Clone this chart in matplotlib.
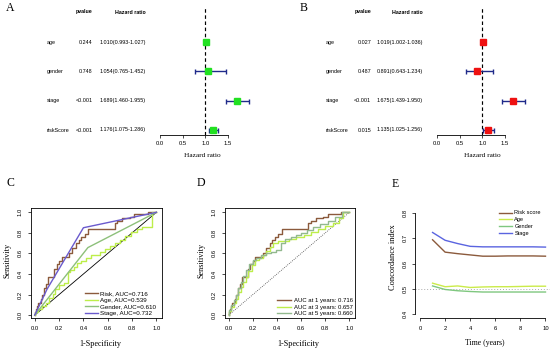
import matplotlib
matplotlib.use("Agg")
import matplotlib.pyplot as plt
import matplotlib.transforms as mtransforms
import numpy as np

W, H = 550, 352
SANS = ["Liberation Sans", "DejaVu Sans"]
SERIF = ["Liberation Serif", "DejaVu Serif"]
plt.rcParams['font.family'] = SANS

# ---------------- data ----------------
forest_vars = ["age", "gender", "stage", "riskScore"]
# A: univariate
A_p = ["0.244", "0.748", "<0.001", "<0.001"]
A_hr = [1.010, 1.054, 1.689, 1.176]
A_lo = [0.993, 0.765, 1.460, 1.075]
A_hi = [1.027, 1.452, 1.955, 1.286]
# B: multivariate
B_p = ["0.027", "0.487", "<0.001", "0.015"]
B_hr = [1.019, 0.891, 1.675, 1.135]
B_lo = [1.002, 0.643, 1.439, 1.025]
B_hi = [1.036, 1.234, 1.950, 1.256]
forest_ticks = [0.0, 0.5, 1.0, 1.5]

# C: ROC of factors
risk_fpr = [0, 0.01, 0.02, 0.03, 0.05, 0.06, 0.08, 0.09, 0.11, 0.13, 0.16, 0.18, 0.20, 0.22, 0.24, 0.28,
            0.31, 0.34, 0.36, 0.38, 0.41, 0.44, 0.47, 0.66, 0.68, 0.72, 0.78, 0.82, 0.87, 0.93, 1.0]
risk_tpr = [0, 0.03, 0.06, 0.09, 0.12, 0.16, 0.20, 0.26, 0.30, 0.37, 0.37, 0.45, 0.50, 0.53, 0.57, 0.57,
            0.60, 0.65, 0.70, 0.73, 0.76, 0.79, 0.84, 0.84, 0.90, 0.92, 0.94, 0.95, 0.98, 0.98, 1.0]
age_fpr = [0, 0.03, 0.06, 0.09, 0.12, 0.15, 0.17, 0.20, 0.24, 0.27, 0.29, 0.32, 0.35, 0.38, 0.42, 0.46,
           0.54, 0.58, 0.62, 0.66, 0.70, 0.74, 0.79, 0.84, 0.88, 0.96, 1.0]
age_tpr = [0, 0.03, 0.06, 0.09, 0.12, 0.17, 0.21, 0.25, 0.29, 0.31, 0.42, 0.44, 0.47, 0.51, 0.53, 0.56,
           0.58, 0.61, 0.64, 0.67, 0.70, 0.73, 0.77, 0.81, 0.84, 0.86, 1.0]
gender_fpr = [0, 0.437, 1.0]
gender_tpr = [0, 0.657, 1.0]
stage_fpr = [0, 0.10, 0.40, 1.0]
stage_tpr = [0, 0.25, 0.85, 1.0]
C_labels = ["Risk, AUC=0.716", "Age, AUC=0.539", "Gender, AUC=0.610", "Stage, AUC=0.732"]

# D: time-dependent ROC
y3_fpr = [0, 0.02, 0.04, 0.06, 0.08, 0.10, 0.12, 0.14, 0.16, 0.19, 0.22, 0.25, 0.28, 0.31, 0.34, 0.37,
          0.41, 0.45, 0.50, 0.56, 0.62, 0.68, 0.74, 0.80, 0.86, 0.91, 0.95, 1.0]
y3_tpr = [0, 0.04, 0.08, 0.12, 0.16, 0.22, 0.27, 0.32, 0.37, 0.43, 0.49, 0.54, 0.56, 0.58, 0.62, 0.66,
          0.70, 0.72, 0.72, 0.74, 0.76, 0.78, 0.81, 0.84, 0.87, 0.90, 0.94, 1.0]
y5_fpr = [0, 0.02, 0.04, 0.06, 0.08, 0.10, 0.12, 0.14, 0.17, 0.20, 0.23, 0.27, 0.31, 0.35, 0.39, 0.43,
          0.47, 0.52, 0.56, 0.60, 0.65, 0.70, 0.76, 0.82, 0.88, 0.94, 1.0]
y5_tpr = [0, 0.05, 0.10, 0.15, 0.20, 0.26, 0.32, 0.38, 0.44, 0.50, 0.54, 0.56, 0.58, 0.60, 0.61, 0.63,
          0.70, 0.74, 0.76, 0.78, 0.80, 0.83, 0.86, 0.89, 0.92, 0.95, 1.0]
D_labels = ["AUC at 1 years: 0.716", "AUC at 3 years: 0.657", "AUC at 5 years: 0.660"]

# E: C-index over time
years = [1, 2, 3, 4, 5, 6, 7, 8, 9, 10]
ci_risk = [0.694, 0.645, 0.639, 0.634, 0.629, 0.629, 0.630, 0.630, 0.630, 0.629]
ci_age = [0.522, 0.508, 0.511, 0.505, 0.507, 0.508, 0.508, 0.509, 0.510, 0.510]
ci_gender = [0.511, 0.497, 0.492, 0.489, 0.487, 0.487, 0.487, 0.487, 0.487, 0.487]
ci_stage = [0.723, 0.692, 0.679, 0.668, 0.666, 0.666, 0.666, 0.666, 0.666, 0.665]
E_labels = ["Risk score", "Age", "Gender", "Stage"]

# colours
c_brown = "#8B5A3C"
c_ygreen = "#BDEE4A"
c_green = "#8DC07A"
c_blue = "#6A5ACD"
c_navy = "#1F2A8A"

fig = plt.figure(figsize=(W / 100, H / 100), dpi=100)


def ax_px(l, t, r, b):
    return fig.add_axes([l / W, 1 - b / H, (r - l) / W, (b - t) / H])


def ftext(x, y, s, **kw):
    fig.text(x / W, 1 - y / H, s, **kw)


# ---------------- forest plots ----------------
def forest(x0px, label_x, p_right, hr_right, pvals, hr, lo, hi, mcol, xlab_x):
    px_per = 45.33
    l, r = x0px - 10, x0px + 100
    ax = ax_px(l, 8, r, 135)
    ax.set_xlim(-10 / px_per, 100 / px_per)
    y0 = 1 - 5 / 29.33
    y1 = 1 + (130 - 8) / 29.33
    ax.set_ylim(y0, y1)
    n = len(forest_vars)
    ypos = np.arange(n, 0, -1)
    hr = np.array(hr); lo = np.array(lo); hi = np.array(hi)
    ax.axvline(1.0, color="black", ls=(0, (3, 2.2)), lw=0.85)
    ax.errorbar(hr, ypos, xerr=[hr - lo, hi - hr], fmt="s", color=c_navy, mfc=mcol, mec=mcol,
                ms=4.4, capsize=1.8, elinewidth=1.0, capthick=1.0, zorder=3)
    for s in ["top", "right", "left"]:
        ax.spines[s].set_visible(False)
    ax.spines["bottom"].set_bounds(0, 1.5)
    ax.spines["bottom"].set_linewidth(0.6)
    ax.set_yticks([])
    ax.set_xticks(forest_ticks)
    ax.set_xticklabels(["%.1f" % t for t in forest_ticks])
    ax.tick_params(axis="x", labelsize=4.2, length=2.5, width=0.5, pad=1.5)
    ax.patch.set_alpha(0)
    tr = mtransforms.blended_transform_factory(fig.transFigure, ax.transData)
    yh = 1 + (130 - 12) / 29.33
    fig.text(p_right / W, yh, "pvalue", transform=tr, ha="right", va="center", fontsize=3.8, fontweight="bold")
    fig.text(hr_right / W, yh, "Hazard ratio", transform=tr, ha="right", va="center", fontsize=3.8, fontweight="bold")
    for i in range(n):
        fig.text(label_x / W, ypos[i], forest_vars[i], transform=tr, ha="left", va="center", fontsize=3.9)
        fig.text(p_right / W, ypos[i], pvals[i], transform=tr, ha="right", va="center", fontsize=3.9)
        fig.text(hr_right / W, ypos[i], "%.3f(%.3f-%.3f)" % (hr[i], lo[i], hi[i]), transform=tr,
                 ha="right", va="center", fontsize=3.9)
    ftext(xlab_x, 155, "Hazard ratio", family=SERIF, fontsize=5.2, ha="center", va="center")
    return ax


forest(160, 47, 92.5, 146, A_p, A_hr, A_lo, A_hi, "#22E022", 202)
forest(437, 326, 371, 423, B_p, B_hr, B_lo, B_hi, "#EE1111", 482)
ftext(5.5, 8, "A", family=SERIF, fontsize=8.5, ha="left", va="center")
ftext(300, 8, "B", family=SERIF, fontsize=8.5, ha="left", va="center")


# ---------------- ROC panels ----------------
def roc_axes(l, r):
    ax = ax_px(l, 208.3, r, 318.4)
    ax.set_xlim(-0.035, 1.042)
    ax.set_ylim(-0.032, 1.039)
    ticks = [0.0, 0.2, 0.4, 0.6, 0.8, 1.0]
    ax.set_xticks(ticks)
    ax.set_yticks(ticks)
    ax.set_xticklabels(["%.1f" % t for t in ticks])
    ax.set_yticklabels(["%.1f" % t for t in ticks], rotation=90, va="center")
    ax.tick_params(labelsize=4.2, length=2.5, width=0.5, pad=3.0)
    for s in ax.spines.values():
        s.set_linewidth(0.6)
    return ax


axC = roc_axes(30.5, 161.5)
axC.plot([0, 1], [0, 1], color="black", lw=0.6)
axC.plot(risk_fpr, risk_tpr, drawstyle="steps-pre", color=c_brown, lw=1.0, label=C_labels[0])
axC.plot(age_fpr, age_tpr, drawstyle="steps-pre", color=c_ygreen, lw=1.0, label=C_labels[1])
axC.plot(gender_fpr, gender_tpr, color=c_green, lw=1.0, label=C_labels[2])
axC.plot(stage_fpr, stage_tpr, color=c_blue, lw=1.0, label=C_labels[3])
axC.legend(loc="lower right", bbox_to_anchor=(156 / W, 1 - 316 / H), bbox_transform=fig.transFigure,
           frameon=False, fontsize=4.5, handlelength=2.0, handletextpad=0.35, labelspacing=0.2,
           borderpad=0, borderaxespad=0)
ftext(100, 344, "1-Specificity", family=SERIF, fontsize=5.9, ha="center", va="center")
ftext(7, 260, "Sensitivity", family=SERIF, fontsize=5.9, ha="center", va="center", rotation=90)
ftext(6.5, 183, "C", family=SERIF, fontsize=8.5, ha="left", va="center")

axD = roc_axes(224.5, 354.5)
axD.plot([0, 1], [0, 1], color="#444444", lw=0.6, ls=(0, (1, 1.5)))
axD.plot(risk_fpr, risk_tpr, drawstyle="steps-pre", color=c_brown, lw=1.0, label=D_labels[0])
axD.plot(y3_fpr, y3_tpr, drawstyle="steps-pre", color=c_ygreen, lw=1.0, label=D_labels[1])
axD.plot(y5_fpr, y5_tpr, drawstyle="steps-pre", color="#92B98E", lw=1.0, label=D_labels[2])
axD.legend(loc="lower right", bbox_to_anchor=(352.5 / W, 1 - 316.5 / H), bbox_transform=fig.transFigure,
           frameon=False, fontsize=4.3, handlelength=2.3, handletextpad=0.5, labelspacing=0.25,
           borderpad=0, borderaxespad=0)
ftext(298, 344, "1-Specificity", family=SERIF, fontsize=5.9, ha="center", va="center")
ftext(202, 260, "Sensitivity", family=SERIF, fontsize=5.9, ha="center", va="center", rotation=90)
ftext(197, 183, "D", family=SERIF, fontsize=8.5, ha="left", va="center")

# ---------------- C-index panel ----------------
axE = ax_px(415, 209, 550.5, 318)
axE.set_xlim(-0.4, 10.4)
axE.set_ylim(0.384, 0.816)
axE.axhline(0.5, color="#AAAAAA", lw=0.7, ls=(0, (1, 2)))
axE.plot(years, ci_risk, color=c_brown, lw=1.0, label=E_labels[0])
axE.plot(years, ci_age, color="#CBEB4A", lw=1.0, label=E_labels[1])
axE.plot(years, ci_gender, color="#7FC77F", lw=1.0, label=E_labels[2])
axE.plot(years, ci_stage, color="#5A64E0", lw=1.0, label=E_labels[3])
for s in ["top", "right"]:
    axE.spines[s].set_visible(False)
axE.spines["left"].set_bounds(0.4, 0.8)
axE.spines["bottom"].set_bounds(0, 10)
for s in ["left", "bottom"]:
    axE.spines[s].set_linewidth(0.6)
eyt = [0.4, 0.5, 0.6, 0.7, 0.8]
ext = [0, 2, 4, 6, 8, 10]
axE.set_yticks(eyt)
axE.set_yticklabels(["%.1f" % t for t in eyt], rotation=90, va="center")
axE.set_xticks(ext)
axE.set_xticklabels([str(t) for t in ext])
axE.tick_params(labelsize=4.2, length=2.5, width=0.5, pad=3.0)
axE.patch.set_alpha(0)
axE.legend(loc="upper left", bbox_to_anchor=(499 / W, 1 - 210.5 / H), bbox_transform=fig.transFigure,
           frameon=False, fontsize=4.1, handlelength=2.2, handletextpad=0.5, labelspacing=0.3,
           borderpad=0, borderaxespad=0)
ftext(485, 343, "Time (years)", family=SERIF, fontsize=5.6, ha="center", va="center")
ftext(393, 257, "Concordance index", family=SERIF, fontsize=6.0, ha="center", va="center", rotation=90)
ftext(392, 184, "E", family=SERIF, fontsize=8.5, ha="left", va="center")

fig.savefig("out.png", dpi=100)
